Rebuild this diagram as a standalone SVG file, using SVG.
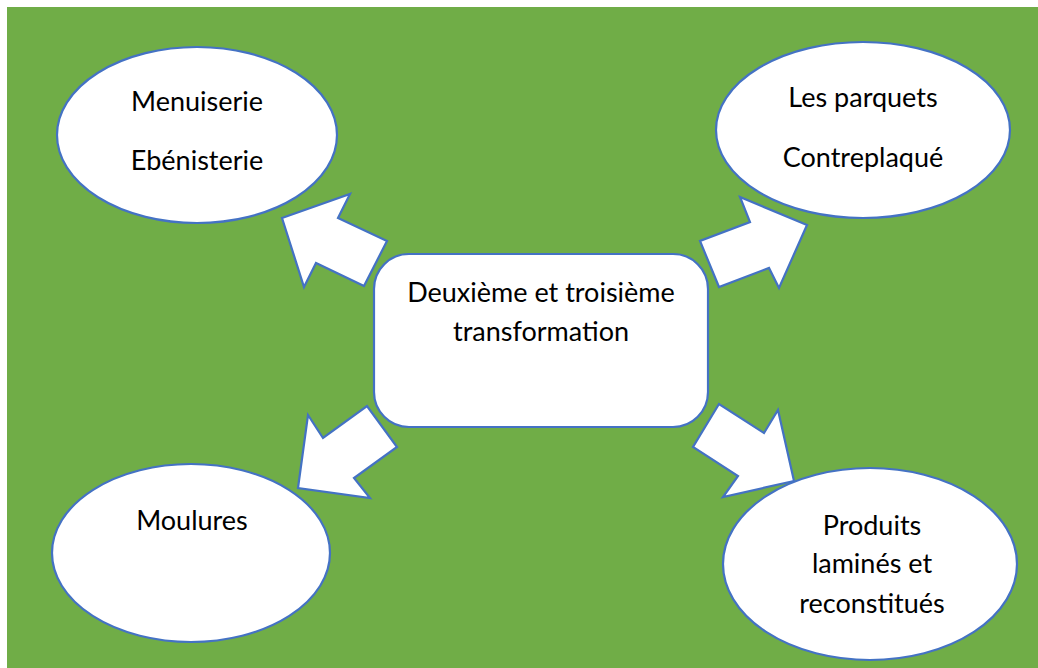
<svg xmlns="http://www.w3.org/2000/svg" width="1038" height="668" viewBox="0 0 1038 668">
<style>
.shape{fill:#fff;stroke:#4472C4;stroke-width:2.2;stroke-linejoin:miter}
.t{font-family:Lato,"Open Sans","Liberation Sans",sans-serif;font-size:27px;fill:#000;text-anchor:middle}
</style>
<rect x="0" y="0" width="1038" height="668" fill="#fff"/>
<rect x="7" y="7" width="1031" height="661" fill="#70AD47"/>
<g id="connectors">
<polygon class="shape" points="282,218 350,194 338,218 387,241 364,286 316,263 304,287"/>
<polygon class="shape" points="807,225 740,197 750,222 700,241 719,287 769,268 779,288"/>
<polygon class="shape" points="298,488 308,415 323,438 367,406 397,447 354,478 370,498"/>
<polygon class="shape" points="794,481 778,410 764,433 719,404 693,447 738,476 723,497"/>
</g>
<g id="center">
<rect class="shape" x="374" y="254" width="334" height="173" rx="35" ry="35"/>
<text class="t" x="541" y="302">Deuxième et troisième</text>
<text class="t" x="541" y="341">transformation</text>
</g>
<g id="menuiserie">
<ellipse class="shape" cx="197" cy="135" rx="140" ry="88"/>
<text class="t" x="197" y="111">Menuiserie</text>
<text class="t" x="197" y="170">Ebénisterie</text>
</g>
<g id="parquets">
<ellipse class="shape" cx="863" cy="130" rx="147" ry="88"/>
<text class="t" x="863" y="107">Les parquets</text>
<text class="t" x="863" y="167">Contreplaqué</text>
</g>
<g id="moulures">
<ellipse class="shape" cx="191" cy="553" rx="139" ry="89"/>
<text class="t" x="192" y="530">Moulures</text>
</g>
<g id="produits">
<ellipse class="shape" cx="870" cy="564" rx="147" ry="96"/>
<text class="t" x="872" y="535">Produits</text>
<text class="t" x="872" y="573">laminés et</text>
<text class="t" x="872" y="613">reconstitués</text>
</g>
</svg>
